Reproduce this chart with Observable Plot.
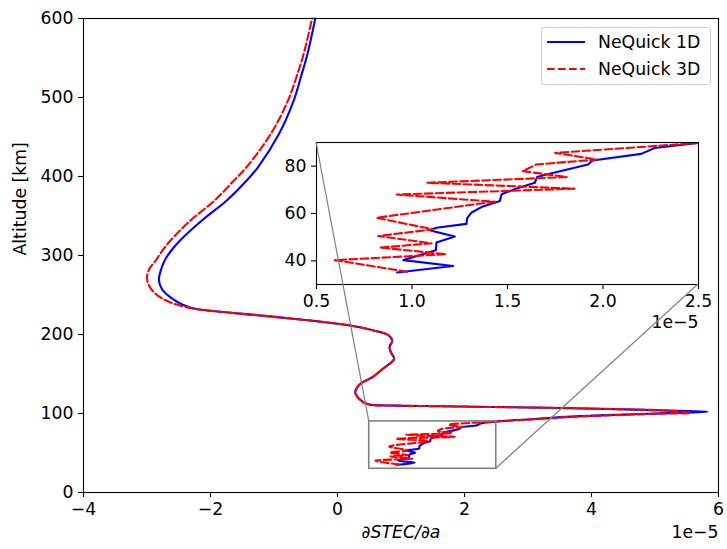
<!DOCTYPE html>
<html><head><meta charset="utf-8">
<script src="https://cdn.jsdelivr.net/npm/d3@7"></script>
<script src="https://cdn.jsdelivr.net/npm/@observablehq/plot@0.6"></script>
<style>
body{margin:0;background:#fff;}
#wrap{position:relative;width:727px;height:549px;}
#wrap svg{position:absolute;overflow:visible;}
</style></head><body><div id="wrap"></div>
<script>
// dSTEC/da values in units of 1e-5, altitude in km (bottom -> top)
const val1D = [0.922,1.215,0.955,1.125,1.128,1.224,1.092,1.128,1.285,1.289,1.310,1.364,1.460,1.469,1.547,1.643,1.655,1.704,1.922,1.945,2.200,2.270,2.500,
  3.0,3.7,4.5,5.2,5.6,5.83,5.5,4.1,3.0,1.62,0.94,0.47,0.34,0.28,0.36,0.55,0.72,0.89,0.84,0.82,0.86,0.81,0.57,0.20,-0.95,-2.11,
  -2.31,-2.47,-2.63,-2.75,-2.80,-2.81,-2.78,-2.72,-2.62,-2.48,-2.14,-1.74,-1.43,-1.25,-0.92,-0.69,-0.58,-0.47,-0.35];
const alt1D = [35.1,37.8,40.3,44.5,47.7,50.3,52.9,54.0,55.6,58.0,60.3,62.7,65.3,68.1,70.6,73.0,75.4,76.5,80.7,82.4,85.2,87.7,89.8,
  92.5,96.0,98.6,100.5,101.4,102.2,103.2,106.0,107.6,109.2,110.0,112.0,118.6,127.0,137.6,146.0,157.0,169.0,177.6,184.0,192.0,198.7,205.0,211.4,222.0,231.0,
  234,239,247,256,264,272,282,294,306,319,344,370,395,412,454,496,525,556,600];
const val3D = [0.975,0.596,1.180,0.831,1.102,0.823,1.110,0.814,1.430,0.920,1.850,1.080,1.810,1.580,1.650,1.970,1.750,2.500,
  3.0,3.7,4.5,5.1,5.56,5.2,4.1,3.0,1.62,0.94,0.47,0.34,0.28,0.36,0.55,0.72,0.89,0.84,0.82,0.86,0.81,0.57,0.20,-0.95,-2.11,
  -2.35,-2.58,-2.79,-2.92,-2.98,-3.00,-2.97,-2.86,-2.76,-2.63,-2.32,-1.93,-1.63,-1.43,-1.05,-0.78,-0.65,-0.53,-0.40];
const alt3D = [35.4,40.3,42.8,45.6,47.4,50.5,53.3,58.2,65.0,68.0,70.5,73.0,75.4,77.9,80.7,82.8,85.6,89.8,
  92.3,95.8,98.3,99.8,100.6,103.6,106.0,107.6,109.2,110.0,112.0,118.6,127.0,137.6,146.0,157.0,169.0,177.6,184.0,192.0,198.7,205.0,211.4,222.0,231.0,
  234,239,247,256,264,272,282,294,306,319,344,370,395,412,454,496,525,556,600];
const seriesNames = ["NeQuick 1D","NeQuick 3D"];
const seriesColors = ["#0000ff","#ff0000"];
const xTicks = [-4,-2,0,2,4,6];
const yTicks = [0,100,200,300,400,500,600];
const insetXDomain = [0.5,2.5];
const insetYDomain = [30,90];
const insetXTicks = [0.5,1.0,1.5,2.0,2.5];
const insetYTicks = [40,60,80];
const xLabel = "∂STEC/∂a", yLabel = "Altitude [km]", expLabel = "1e−5";

const d1 = val1D.map((v,i)=>({v, alt:alt1D[i]}));
const d3d = val3D.map((v,i)=>({v, alt:alt3D[i]}));
const zoomBox = [{x1:insetXDomain[0], x2:insetXDomain[1], y1:insetYDomain[0], y2:insetYDomain[1]}];
const FS = 17.3;
const font = {fontFamily:"DejaVu Sans", fontSize:FS+"px", color:"black", background:"transparent"};
const dash = "7.7,3.3";

const main = Plot.plot({
  width:727, height:549, marginLeft:83, marginRight:9, marginTop:18, marginBottom:57,
  style:{...font, background:"white"},
  x:{domain:[-4,6]}, y:{domain:[0,600]},
  marks:[
    Plot.line(d1,{x:"v",y:"alt",stroke:seriesColors[0],strokeWidth:2.1,curve:"catmull-rom"}),
    Plot.line(d3d,{x:"v",y:"alt",stroke:seriesColors[1],strokeWidth:2.1,strokeDasharray:dash,curve:"catmull-rom"}),
    Plot.rect(zoomBox,{x1:"x1",x2:"x2",y1:"y1",y2:"y2",fill:"none",stroke:"#808080",strokeWidth:1.6}),
    Plot.frame({stroke:"black",strokeWidth:1.1}),
    Plot.axisX({ticks:xTicks, tickSize:5, tickPadding:5, label:null, strokeWidth:1.1}),
    Plot.axisY({ticks:yTicks, tickSize:5, tickPadding:5, label:null, strokeWidth:1.1}),
    Plot.text([xLabel],{frameAnchor:"bottom", dy:45, text:d=>d, fontStyle:"italic"}),
    Plot.text([expLabel],{frameAnchor:"bottom-right", dy:45, text:d=>d, textAnchor:"end"}),
    Plot.text([yLabel],{frameAnchor:"left", dx:-63, text:d=>d, rotate:-90})
  ]
});
const wrap = document.getElementById("wrap");
main.style.left="0px"; main.style.top="0px";
wrap.appendChild(main);

const iml=40, imt=5, imr=10, imb=50;
const inset = Plot.plot({
  width:382+iml+imr, height:142+imt+imb, marginLeft:iml, marginRight:imr, marginTop:imt, marginBottom:imb,
  style:font,
  x:{domain:insetXDomain}, y:{domain:insetYDomain},
  marks:[
    Plot.frame({fill:"white"}),
    Plot.line(d1,{x:"v",y:"alt",stroke:seriesColors[0],strokeWidth:2.1,clip:true}),
    Plot.line(d3d,{x:"v",y:"alt",stroke:seriesColors[1],strokeWidth:2.1,strokeDasharray:dash,clip:true}),
    Plot.frame({stroke:"black",strokeWidth:1.1}),
    Plot.axisX({ticks:insetXTicks, tickFormat:".1f", tickSize:5, tickPadding:5, label:null, strokeWidth:1.1}),
    Plot.axisY({ticks:insetYTicks, tickSize:5, tickPadding:5, label:null, strokeWidth:1.1}),
    Plot.text([expLabel],{frameAnchor:"bottom-right", dy:43, text:d=>d, textAnchor:"end"})
  ]
});
const insetLeft = 316-iml, insetTop = 142-imt;
inset.style.left = insetLeft+"px"; inset.style.top = insetTop+"px";
wrap.appendChild(inset);

// connectors + legend overlay
const sx = main.scale("x"), sy = main.scale("y");
const ix = inset.scale("x"), iy = inset.scale("y");
const ov = d3.select(wrap).append("svg").attr("width",727).attr("height",549)
  .style("left","0px").style("top","0px").style("pointer-events","none");
const conn = [
  [sx.apply(insetXDomain[0]), sy.apply(insetYDomain[1]), insetLeft+ix.apply(insetXDomain[0]), insetTop+iy.apply(insetYDomain[1])],
  [sx.apply(insetXDomain[1]), sy.apply(insetYDomain[0]), insetLeft+ix.apply(insetXDomain[1]), insetTop+iy.apply(insetYDomain[0])]
];
ov.selectAll("line.c").data(conn).join("line").attr("class","c")
  .attr("x1",d=>d[0]).attr("y1",d=>d[1]).attr("x2",d=>d[2]).attr("y2",d=>d[3])
  .attr("stroke","#808080").attr("stroke-width",1.2);
const lg = ov.append("g").attr("font-family","DejaVu Sans").attr("font-size",FS);
lg.append("rect").attr("x",541.5).attr("y",27.5).attr("width",169).attr("height",57).attr("rx",3)
  .attr("fill","white").attr("fill-opacity",0.8).attr("stroke","#cccccc").attr("stroke-width",1);
seriesNames.forEach((n,i)=>{
  const y = 42 + i*27;
  lg.append("line").attr("x1",547).attr("x2",585).attr("y1",y).attr("y2",y)
    .attr("stroke",seriesColors[i]).attr("stroke-width",2.1).attr("stroke-dasharray", i===1?dash:null);
  lg.append("text").attr("x",598).attr("y",y).attr("dy","0.35em").text(n);
});
</script></body></html>
